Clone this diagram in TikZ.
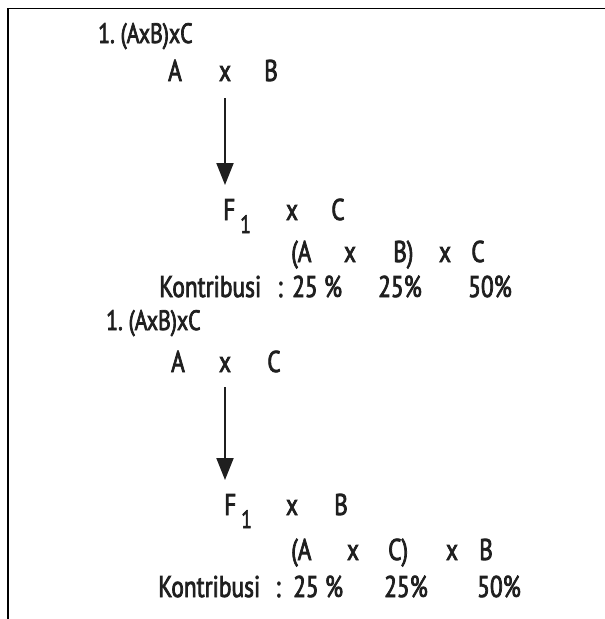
\documentclass[tikz,border=0pt]{standalone}
\usepackage{fontspec}
\setmainfont{PT Sans}[FakeStretch=0.78,FakeBold=2.5]
\usetikzlibrary{arrows.meta}
\definecolor{ink}{HTML}{1F1F1F}
\newcommand{\lowidx}[1]{\,\raisebox{-13pt}{\fontsize{25}{25}\selectfont #1}}

\begin{document}
\begin{tikzpicture}[
  x=1pt, y=-1pt,
  font=\fontsize{30}{34}\selectfont, text=ink,
  lbl/.style={inner sep=0pt, anchor=base},
  lblw/.style={inner sep=0pt, anchor=base west},
  ttl/.style={lblw, font=\fontsize{28}{32}\selectfont},
  arr/.style={-{Triangle[length=22pt,width=17pt]}, line width=2pt, draw=ink}
]
\useasboundingbox (0,0) rectangle (605,619);
% frame
\draw[line width=1.5pt] (7,8.5) -- (605,8.5);
\draw[line width=2pt] (7.5,8) -- (7.5,619);

% first cross
\node[ttl] (title1) at (98,43) {1.~(AxB)xC};
\node[lbl] (pa1) at (175,81) {A};
\node[lbl] (xp1) at (225,81) {x};
\node[lbl] (pb1) at (271,81) {B};
\node[lblw] (f1) at (223,220) {F\lowidx{1}};
\node[lbl] (xf1) at (292,220) {x};
\node[lbl] (pc1) at (338,220) {C};
\node[lblw] (ga1) at (291,262) {(A};
\node[lbl] (gx1) at (350,262) {x};
\node[lblw] (gb1) at (393,262) {B)};
\node[lbl] (gy1) at (445,262) {x};
\node[lbl] (gc1) at (478,262) {C};
\node[lblw] (kon1) at (159,297) {Kontribusi};
\node[lbl] (col1) at (280,297) {:};
\node[lblw] (ka1) at (292,297) {25 \%};
\node[lblw] (kb1) at (378,297) {25\%};
\node[lblw] (kc1) at (468,297) {50\%};
\draw[arr, shorten <=17pt, shorten >=35pt] (xp1.south) -- (xp1.south |- f1.base);

% second cross
\node[ttl] (title2) at (106,330) {1.~(AxB)xC};
\node[lbl] (pa2) at (178,372) {A};
\node[lbl] (xp2) at (225,372) {x};
\node[lbl] (pc2) at (274,372) {C};
\node[lblw] (f2) at (224,515) {F\lowidx{1}};
\node[lbl] (xf2) at (292,515) {x};
\node[lbl] (pb2) at (341,515) {B};
\node[lblw] (ga2) at (291,560) {(A};
\node[lbl] (gx2) at (353,560) {x};
\node[lblw] (gc2) at (388,560) {C)};
\node[lbl] (gy2) at (452,560) {x};
\node[lbl] (gb2) at (486,560) {B};
\node[lblw] (kon2) at (158,597) {Kontribusi};
\node[lbl] (col2) at (278,597) {:};
\node[lblw] (ka2) at (293,597) {25 \%};
\node[lblw] (kb2) at (384,597) {25\%};
\node[lblw] (kc2) at (477,597) {50\%};
\draw[arr, shorten <=15pt, shorten >=35pt] (xp2.south) -- (xp2.south |- f2.base);
\end{tikzpicture}
\end{document}
